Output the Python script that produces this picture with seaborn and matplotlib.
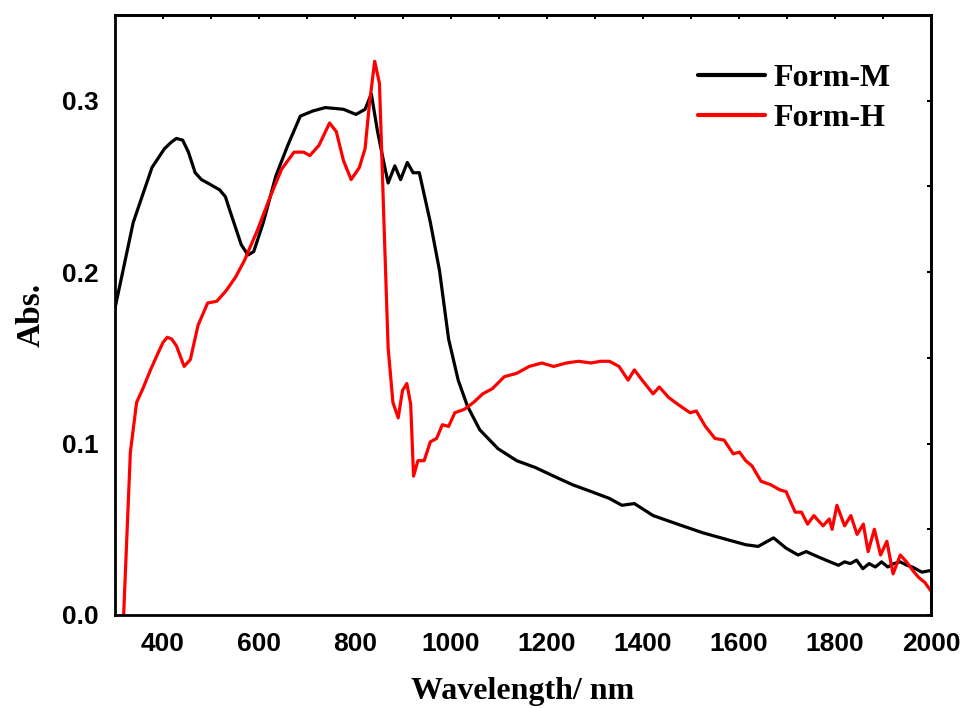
import numpy as np
import pandas as pd
import matplotlib
matplotlib.use("Agg")
import matplotlib.pyplot as plt
import seaborn as sns
from matplotlib.ticker import MultipleLocator
from matplotlib.lines import Line2D

# ---------------- data ----------------
m_wl = [300, 338, 377, 403, 418, 428, 441, 453, 467, 480, 493, 518, 530, 538, 563, 577, 589, 609, 635,
        660, 686, 712, 738, 776, 802, 821, 834, 847, 860, 869, 883, 895, 909, 921,
        934, 957, 976, 995, 1015, 1034, 1060, 1098, 1137, 1176, 1214, 1253, 1292,
        1330, 1356, 1382, 1421, 1472, 1524, 1575, 1614, 1640, 1672, 1698, 1723,
        1740, 1756, 1781, 1807, 1820, 1832, 1845, 1858, 1871, 1884, 1897, 1910,
        1923, 1936, 1950, 1961, 1981, 2000]
m_abs = [0.179, 0.229, 0.261, 0.272, 0.276, 0.278, 0.277, 0.270, 0.258, 0.254, 0.252, 0.248, 0.244, 0.237,
         0.216, 0.210, 0.212, 0.229, 0.256, 0.274, 0.291, 0.294, 0.296, 0.295,
         0.292, 0.295, 0.304, 0.282, 0.264, 0.252, 0.262, 0.254, 0.264, 0.258,
         0.258, 0.229, 0.201, 0.161, 0.137, 0.122, 0.108, 0.097, 0.090, 0.086,
         0.081, 0.076, 0.072, 0.068, 0.064, 0.065, 0.058, 0.053, 0.048, 0.044,
         0.041, 0.040, 0.045, 0.039, 0.035, 0.037, 0.035, 0.032, 0.029, 0.031,
         0.030, 0.032, 0.027, 0.030, 0.028, 0.031, 0.028, 0.030, 0.031, 0.029,
         0.028, 0.025, 0.026]

h_wl = [318, 332, 345, 358, 374, 390, 400, 409, 418, 428, 444, 457, 473, 493, 512, 531, 551,
        570, 596, 622, 647, 673, 693, 706, 725, 747, 761, 776, 792, 809, 821, 830,
        841, 851, 860, 869, 879, 890, 899, 908, 916, 922, 931, 944, 957, 970, 982,
        995, 1008, 1028, 1047, 1066, 1086, 1111, 1137, 1163, 1189, 1214, 1240,
        1266, 1292, 1311, 1330, 1350, 1369, 1382, 1401, 1421, 1434, 1453, 1472,
        1498, 1511, 1530, 1550, 1569, 1588, 1601, 1614, 1627, 1646, 1666, 1685,
        1698, 1717, 1730, 1743, 1756, 1775, 1788, 1794, 1804, 1820, 1833, 1846,
        1859, 1869, 1882, 1895, 1908, 1921, 1936, 1949, 1962, 1974, 1987, 2000]
h_abs = [0.000, 0.095, 0.124, 0.132, 0.143, 0.153, 0.159, 0.162, 0.161, 0.157, 0.145, 0.149,
         0.169, 0.182, 0.183, 0.189, 0.197, 0.207, 0.224, 0.243, 0.260, 0.270,
         0.270, 0.268, 0.274, 0.287, 0.282, 0.265, 0.254, 0.261, 0.272, 0.298,
         0.323, 0.310, 0.232, 0.156, 0.124, 0.115, 0.131, 0.135, 0.123, 0.081,
         0.090, 0.090, 0.101, 0.103, 0.111, 0.110, 0.118, 0.120, 0.124, 0.129,
         0.132, 0.139, 0.141, 0.145, 0.147, 0.145, 0.147, 0.148, 0.147, 0.148,
         0.148, 0.145, 0.137, 0.143, 0.136, 0.129, 0.133, 0.127, 0.123, 0.118,
         0.119, 0.110, 0.103, 0.102, 0.094, 0.095, 0.090, 0.087, 0.078, 0.076,
         0.073, 0.072, 0.060, 0.060, 0.053, 0.058, 0.052, 0.056, 0.050, 0.064,
         0.052, 0.058, 0.047, 0.053, 0.037, 0.050, 0.035, 0.043, 0.024, 0.035,
         0.031, 0.026, 0.022, 0.019, 0.014]

series = ["Form-M", "Form-H"]
colors = {"Form-M": "black", "Form-H": "red"}
x_ticks = [400, 600, 800, 1000, 1200, 1400, 1600, 1800, 2000]
y_ticks = [0.0, 0.1, 0.2, 0.3]

df = pd.concat([
    pd.DataFrame({"wl": m_wl, "abs": m_abs, "form": "Form-M"}),
    pd.DataFrame({"wl": h_wl, "abs": h_abs, "form": "Form-H"}),
], ignore_index=True)

# ---------------- plot ----------------
sns.set_style("white")
plt.rcParams["text.color"] = "black"
plt.rcParams["axes.labelcolor"] = "black"
plt.rcParams["xtick.color"] = "black"
plt.rcParams["ytick.color"] = "black"

fig = plt.figure(figsize=(9.66, 7.08), dpi=100)
ax = fig.add_axes([115/966, 1 - 615/708, 816/966, 600/708])

sns.lineplot(data=df, x="wl", y="abs", hue="form", hue_order=series,
             palette=colors, sort=False, estimator=None, linewidth=2.3,
             legend=False, ax=ax)

ax.set_xlim(300, 2000)
ax.set_ylim(0, 0.35)

tick_font = dict(family="Liberation Sans", weight="bold", size=19, color="black")
xlabel_font = dict(family="Liberation Serif", weight="bold", size=23, color="black")
ylabel_font = dict(family="Liberation Serif", weight="bold", size=24, color="black")

ax.set_xticks(x_ticks)
ax.set_xticklabels([str(v) for v in x_ticks], **tick_font)
ax.set_yticks(y_ticks)
ax.set_yticklabels([f"{v:.1f}" for v in y_ticks], **tick_font)
ax.xaxis.set_minor_locator(MultipleLocator(100))
ax.yaxis.set_minor_locator(MultipleLocator(0.05))
ax.tick_params(axis="both", which="major", direction="out", length=8, width=2,
               pad=4, colors="black")
ax.tick_params(axis="both", which="minor", direction="out", length=5, width=2,
               colors="black")

for s in ax.spines.values():
    s.set_linewidth(2)
    s.set_color("black")

# inward ticks on top and right
top = ax.secondary_xaxis("top")
top.set_xticks(x_ticks)
top.xaxis.set_minor_locator(MultipleLocator(100))
top.tick_params(which="both", direction="in", length=3, width=1.5, labeltop=False)
top.spines["top"].set_linewidth(2)
right = ax.secondary_yaxis("right")
right.set_yticks(y_ticks)
right.yaxis.set_minor_locator(MultipleLocator(0.05))
right.tick_params(which="both", direction="in", length=3, width=1.5, labelright=False)
right.spines["right"].set_linewidth(2)

ax.set_xlabel("Wavelength/ nm", labelpad=15, **xlabel_font)
ax.set_ylabel("Abs.", labelpad=11, **ylabel_font)

handles = [Line2D([], [], color=colors[s], linewidth=3) for s in series]
leg = ax.legend(handles, series, loc="upper left", bbox_to_anchor=(0.695, 0.945),
                frameon=False, handlelength=2.1, handletextpad=0.25,
                labelspacing=0.33, borderpad=0,
                prop=dict(family="Liberation Serif", weight="bold", size=23))
for t in leg.get_texts():
    t.set_color("black")

fig.savefig("out.png", dpi=100, facecolor="white")
